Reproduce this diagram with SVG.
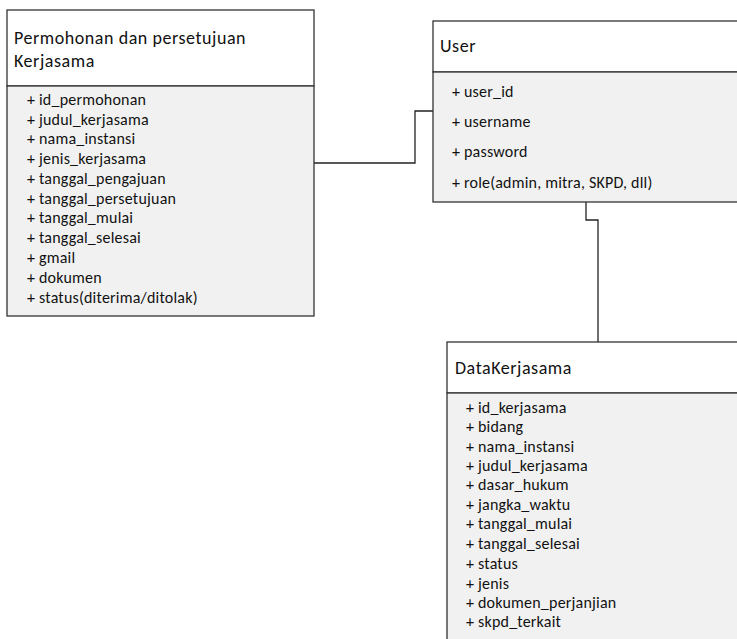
<svg xmlns="http://www.w3.org/2000/svg" width="737" height="639" viewBox="0 0 737 639">
  <style>
    .hdr { fill: #ffffff; stroke: #333333; stroke-width: 1.3; }
    .body { fill: #f1f1f1; stroke: #333333; stroke-width: 1.3; }
    .title { font-family: Carlito, Calibri, Lato, "Liberation Sans", sans-serif; font-size: 18px; letter-spacing: 0.55px; fill: #111111; }
    .attr { font-family: Carlito, Calibri, Lato, "Liberation Sans", sans-serif; font-size: 16px; letter-spacing: 0.2px; fill: #111111; }
    .link { fill: none; stroke: #222222; stroke-width: 1.3; }
  </style>

  <!-- relationships -->
  <g id="connectors">
    <polyline class="link" points="314,163 415,163 415,111 433,111"/>
    <polyline class="link" points="586,202 586,220 598,220 598,342"/>
  </g>

  <!-- Permohonan class -->
  <g id="permohonan">
    <rect class="hdr" x="7" y="10" width="307" height="76"/>
    <rect class="body" x="7" y="86" width="307" height="230"/>
    <text class="title" x="14" y="44">Permohonan dan persetujuan</text>
    <text class="title" x="14" y="66.5">Kerjasama</text>
    <text class="attr" x="27" y="105">+ id_permohonan</text>
    <text class="attr" x="27" y="125">+ judul_kerjasama</text>
    <text class="attr" x="27" y="144">+ nama_instansi</text>
    <text class="attr" x="27" y="164">+ jenis_kerjasama</text>
    <text class="attr" x="27" y="184">+ tanggal_pengajuan</text>
    <text class="attr" x="27" y="204">+ tanggal_persetujuan</text>
    <text class="attr" x="27" y="223">+ tanggal_mulai</text>
    <text class="attr" x="27" y="243">+ tanggal_selesai</text>
    <text class="attr" x="27" y="263">+ gmail</text>
    <text class="attr" x="27" y="283">+ dokumen</text>
    <text class="attr" x="27" y="303">+ status(diterima/ditolak)</text>
  </g>

  <!-- User class -->
  <g id="user">
    <rect class="hdr" x="433" y="21" width="320" height="51"/>
    <rect class="body" x="433" y="72" width="320" height="130"/>
    <text class="title" x="440" y="52">User</text>
    <text class="attr" x="452" y="97">+ user_id</text>
    <text class="attr" x="452" y="127">+ username</text>
    <text class="attr" x="452" y="157">+ password</text>
    <text class="attr" x="452" y="188">+ role(admin, mitra, SKPD, dll)</text>
  </g>

  <!-- DataKerjasama class -->
  <g id="datakerjasama">
    <rect class="hdr" x="447" y="342" width="310" height="51"/>
    <rect class="body" x="447" y="393" width="310" height="260"/>
    <text class="title" x="455" y="374">DataKerjasama</text>
    <text class="attr" x="466" y="413">+ id_kerjasama</text>
    <text class="attr" x="466" y="432">+ bidang</text>
    <text class="attr" x="466" y="452">+ nama_instansi</text>
    <text class="attr" x="466" y="471">+ judul_kerjasama</text>
    <text class="attr" x="466" y="490">+ dasar_hukum</text>
    <text class="attr" x="466" y="510">+ jangka_waktu</text>
    <text class="attr" x="466" y="529">+ tanggal_mulai</text>
    <text class="attr" x="466" y="549">+ tanggal_selesai</text>
    <text class="attr" x="466" y="569">+ status</text>
    <text class="attr" x="466" y="589">+ jenis</text>
    <text class="attr" x="466" y="608">+ dokumen_perjanjian</text>
    <text class="attr" x="466" y="627">+ skpd_terkait</text>
  </g>
</svg>
